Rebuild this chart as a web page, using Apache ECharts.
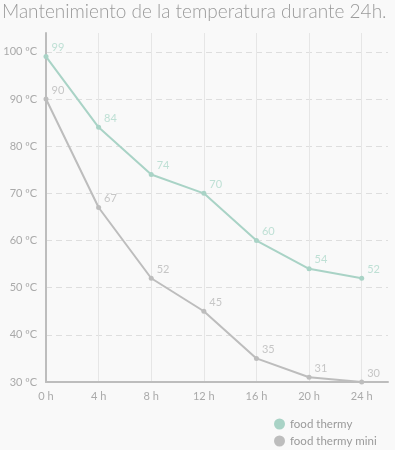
<!DOCTYPE html>
<html><head><meta charset="utf-8">
<script src="https://cdn.jsdelivr.net/npm/echarts@6/dist/echarts.min.js"></script>
<style>html,body{margin:0;padding:0;background:#f9f9f9}#c{width:395px;height:450px}</style>
</head><body><div id="c"></div>
<script>
var hours = [0, 4, 8, 12, 16, 20, 24];
var thermy = [99, 84, 74, 70, 60, 54, 52];
var thermyMini = [90, 67, 52, 45, 35, 31, 30];
var seriesNames = ['food thermy', 'food thermy mini'];
var titleText = 'Mantenimiento de la temperatura durante 24h.';

function pairs(xs, ys) { return xs.map(function (x, i) { return [x, ys[i]]; }); }

var chart = echarts.init(document.getElementById('c'));
function mk(name, data, lineColor, labelColor) {
  return {
    name: name, type: 'line', data: pairs(hours, data),
    symbol: 'circle', symbolSize: 5,
    lineStyle: { color: lineColor, width: 2 },
    itemStyle: { color: lineColor },
    label: { show: true, position: 'right', offset: [-2, -9], color: labelColor, fontSize: 11, fontFamily: 'Lato' }
  };
}
chart.setOption({
  backgroundColor: '#f9f9f9',
  animation: false,
  title: { text: titleText, left: 0, top: 0, padding: [2, 2], textStyle: { color: '#9a9a9a', fontSize: 19, fontWeight: 300, fontFamily: 'Lato' } },
  grid: { left: 46, right: 7, top: 33, bottom: 68, containLabel: false },
  legend: {
    orient: 'vertical', left: 274, top: 418, padding: 0, itemGap: 5, icon: 'circle', itemWidth: 11, itemHeight: 11,
    textStyle: { color: '#9a9a9a', fontSize: 11.5, fontFamily: 'Lato' },
    data: seriesNames
  },
  xAxis: {
    type: 'value', min: 0, max: 26, interval: 4,
    axisLine: { show: true, onZero: false, lineStyle: { color: '#bdbdbd', width: 2 } },
    axisTick: { show: false },
    axisLabel: { color: '#aaaaaa', fontSize: 11, fontFamily: 'Lato', margin: 9, formatter: function (v) { return v > 24 ? '' : v + ' h'; } },
    splitLine: { show: true, showMinLine: false, showMaxLine: false, lineStyle: { color: '#e6e6e6', width: 1 } }
  },
  yAxis: {
    type: 'value', min: 30, max: 104, interval: 10,
    axisLine: { show: true, lineStyle: { color: '#bdbdbd', width: 2 } },
    axisTick: { show: false },
    axisLabel: { color: '#aaaaaa', fontSize: 11, fontFamily: 'Lato', margin: 9, formatter: function (v) { return v > 100 ? '' : v + ' ºC'; } },
    splitLine: { show: true, showMinLine: false, showMaxLine: false, lineStyle: { color: '#dedede', type: [6, 4], width: 1 } }
  },
  series: [
    mk(seriesNames[0], thermy, '#a9d3c6', '#bfe0d5'),
    mk(seriesNames[1], thermyMini, '#bdbdbd', '#c6c6c6')
  ]
});
</script></body></html>
